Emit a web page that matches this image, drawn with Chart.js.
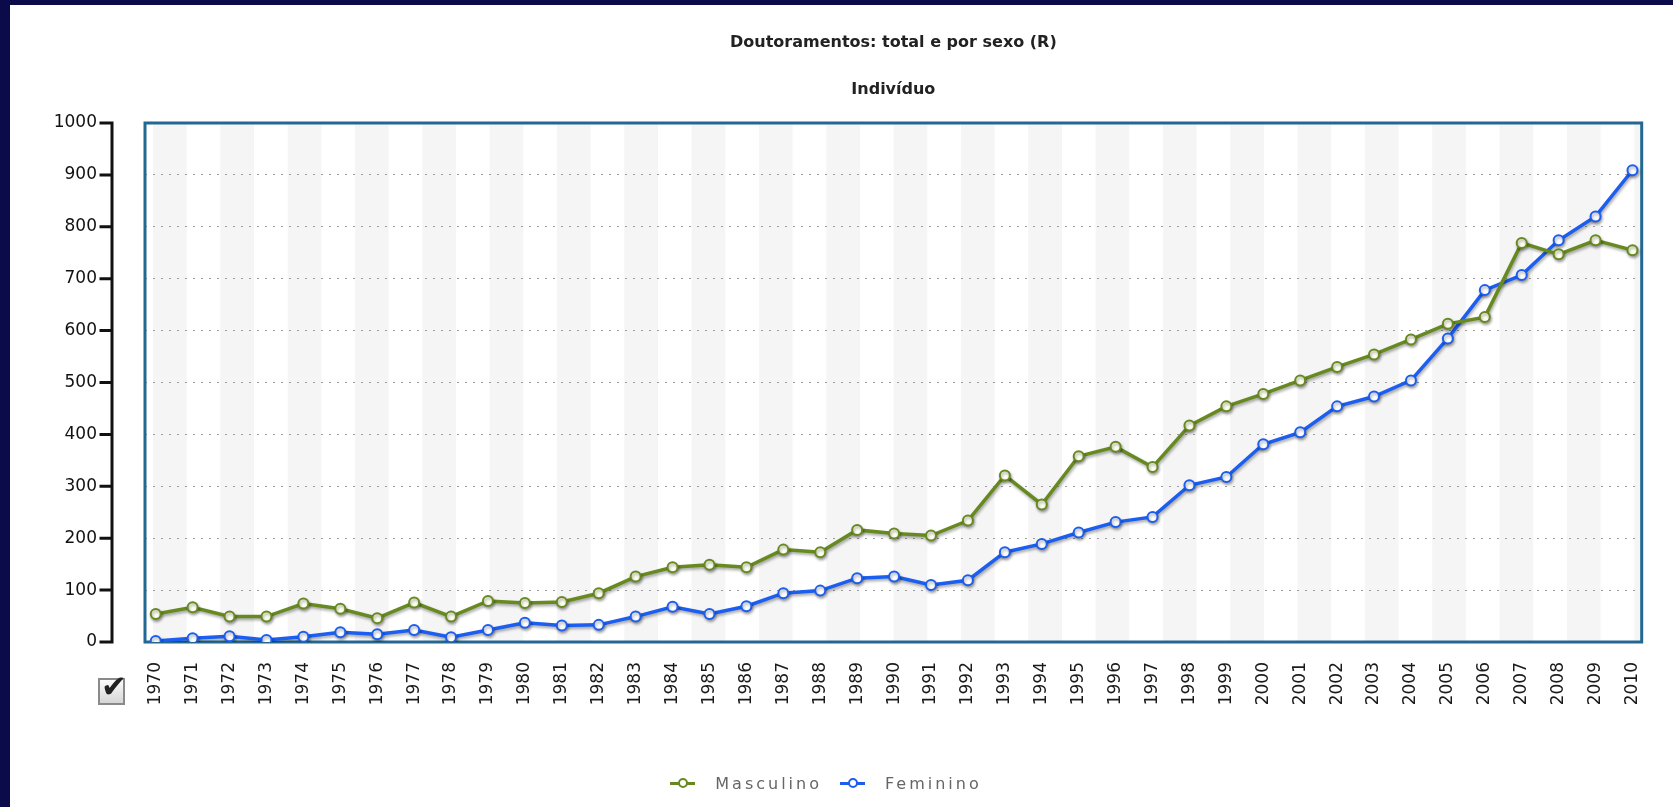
<!DOCTYPE html>
<html>
<head>
<meta charset="utf-8">
<title>Doutoramentos: total e por sexo (R)</title>
<script src="https://cdn.jsdelivr.net/npm/chart.js@4.4.1/dist/chart.umd.min.js"></script>
<style>
html, body { margin: 0; padding: 0; width: 1673px; height: 807px; overflow: hidden; background: #0b0a4a; }
#panel { position: absolute; left: 10px; top: 5px; width: 1663px; height: 802px; background: #fff; }
#myChart { position: absolute; left: 0; top: 0; }
#legend { position: absolute; left: 0; top: 768px; width: 1632px; height: 20px; display: flex; justify-content: center; align-items: center; }
#legend .item { display: flex; align-items: center; margin: 0 9px; }
#legend .mk { position: relative; width: 25px; height: 12px; }
#legend .ln { position: absolute; left: 0; top: 5px; width: 25px; height: 3px; }
#legend .dot { position: absolute; left: 8px; top: 1px; width: 6px; height: 6px; border-radius: 50%; background: #fff; border: 2px solid; }
#legend .txt { margin-left: 20px; font: 16px "DejaVu Sans", sans-serif; letter-spacing: 3px; color: #666; }
#chk { position: absolute; left: 88px; top: 673px; width: 23px; height: 23px; border: 2px solid #8a8a8a; background: linear-gradient(#fbfbfb, #d6d6d6); }
#chk span { position: absolute; left: 1px; top: -12px; font: 31px "DejaVu Sans", sans-serif; color: #222; }
</style>
</head>
<body>
<div id="panel">
  <canvas id="myChart" width="1663" height="802"></canvas>
  <div id="chk"><span>✔</span></div>
  <div id="legend"></div>
</div>
<script>
// data
var chartTitle = 'Doutoramentos: total e por sexo (R)';
var chartSubtitle = 'Indivíduo';
var years = [1970, 1971, 1972, 1973, 1974, 1975, 1976, 1977, 1978, 1979, 1980,
  1981, 1982, 1983, 1984, 1985, 1986, 1987, 1988, 1989, 1990, 1991,
  1992, 1993, 1994, 1995, 1996, 1997, 1998, 1999, 2000, 2001, 2002,
  2003, 2004, 2005, 2006, 2007, 2008, 2009, 2010];
var masculino = [54, 67, 49, 49, 74, 64, 46, 76, 49, 79, 75,
  77, 94, 126, 144, 149, 144, 178, 173, 216, 209, 205,
  234, 321, 265, 358, 376, 337, 417, 454, 478, 504, 530,
  554, 583, 613, 626, 769, 747, 774, 755];
var feminino = [2, 7, 11, 4, 10, 19, 15, 23, 9, 23, 37,
  32, 33, 49, 68, 54, 69, 94, 99, 123, 126, 110,
  119, 173, 189, 211, 231, 241, 302, 318, 381, 404, 454,
  473, 504, 585, 678, 707, 774, 820, 909];
var yTicks = [0, 100, 200, 300, 400, 500, 600, 700, 800, 900, 1000];

function points(vals) {
  return years.map(function (yr, i) { return { x: yr, y: vals[i] }; });
}

// striped background, framed plot area and the detached black y axis
var frame = {
  id: 'frame',
  beforeDraw: function (chart) {
    var ctx = chart.ctx, a = chart.chartArea;
    var period = a.width / 22.23, bw = period / 2;
    ctx.save();
    ctx.fillStyle = '#f5f5f5';
    for (var x = a.left + 8; x < a.right; x += period) {
      ctx.fillRect(x, a.top, Math.min(bw, a.right - x), a.bottom - a.top);
    }
    ctx.restore();
  },
  beforeDatasetsDraw: function (chart) {
    var ctx = chart.ctx, a = chart.chartArea, y = chart.scales.y;
    ctx.save();
    ctx.strokeStyle = '#236893';
    ctx.lineWidth = 3;
    ctx.strokeRect(a.left, a.top, a.right - a.left, a.bottom - a.top);
    var ax = a.left - 33;
    ctx.strokeStyle = '#111';
    ctx.lineWidth = 3;
    ctx.lineCap = 'square';
    ctx.beginPath();
    ctx.moveTo(ax, y.getPixelForValue(1000));
    ctx.lineTo(ax, y.getPixelForValue(0));
    yTicks.forEach(function (v) {
      var py = y.getPixelForValue(v);
      ctx.moveTo(ax - 11, py);
      ctx.lineTo(ax, py);
    });
    ctx.stroke();
    ctx.restore();
  },
  // titles centred over the plot area, not the whole canvas
  afterDraw: function (chart) {
    var ctx = chart.ctx, a = chart.chartArea;
    var cx = (a.left + a.right) / 2;
    ctx.save();
    ctx.fillStyle = '#222';
    ctx.textAlign = 'center';
    ctx.textBaseline = 'middle';
    ctx.font = 'bold 16px "DejaVu Sans"';
    ctx.fillText(chartTitle, cx, 38);
    ctx.fillText(chartSubtitle, cx, 85);
    ctx.restore();
  }
};

var shadow = {
  id: 'shadow',
  beforeDatasetDraw: function (chart) {
    var c = chart.ctx;
    c.save();
    c.shadowColor = 'rgba(0,0,0,0.35)';
    c.shadowBlur = 3;
    c.shadowOffsetX = 1;
    c.shadowOffsetY = 2;
  },
  afterDatasetDraw: function (chart) { chart.ctx.restore(); }
};

var htmlLegend = {
  id: 'htmlLegend',
  afterUpdate: function (chart) {
    var box = document.getElementById('legend');
    box.innerHTML = '';
    chart.data.datasets.forEach(function (ds) {
      var item = document.createElement('div');
      item.className = 'item';
      var mk = document.createElement('span');
      mk.className = 'mk';
      var ln = document.createElement('span');
      ln.className = 'ln';
      ln.style.background = ds.borderColor;
      var dot = document.createElement('span');
      dot.className = 'dot';
      dot.style.borderColor = ds.borderColor;
      mk.appendChild(ln);
      mk.appendChild(dot);
      var txt = document.createElement('span');
      txt.className = 'txt';
      txt.textContent = ds.label;
      item.appendChild(mk);
      item.appendChild(txt);
      box.appendChild(item);
    });
  }
};

var ctx = document.getElementById('myChart').getContext('2d');
var chart = new Chart(ctx, {
  type: 'line',
  data: {
    datasets: [{
      label: 'Masculino',
      data: points(masculino),
      borderColor: '#678a20',
      backgroundColor: '#678a20',
      borderWidth: 3.5,
      pointRadius: 5,
      pointBorderWidth: 2,
      pointBackgroundColor: '#fffff2',
      pointBorderColor: '#678a20'
    },
    {
      label: 'Feminino',
      data: points(feminino),
      borderColor: '#1b5ef0',
      backgroundColor: '#1b5ef0',
      borderWidth: 3.5,
      pointRadius: 5,
      pointBorderWidth: 2,
      pointBackgroundColor: '#ffffff',
      pointBorderColor: '#1b5ef0'
    }]
  },
  options: {
    responsive: false,
    animation: false,
    layout: { padding: { left: 0, right: 21, top: 118, bottom: 95 } },
    plugins: {
      legend: { display: false },
      tooltip: { enabled: false },
      title: { display: false }
    },
    scales: {
      x: {
        type: 'linear',
        min: 1969.71,
        max: 2010.25,
        afterBuildTicks: function (s) { s.ticks = years.map(function (v) { return { value: v }; }); },
        afterFit: function (s) { s.height = 70; },
        ticks: {
          autoSkip: false,
          minRotation: 90,
          maxRotation: 90,
          padding: 20,
          color: '#1a1a1a',
          font: { family: 'DejaVu Sans', size: 17 },
          callback: function (v) { return String(v); }
        },
        grid: { display: false, drawTicks: false },
        border: { display: false }
      },
      y: {
        min: 0,
        max: 1000,
        afterBuildTicks: function (s) { s.ticks = yTicks.map(function (v) { return { value: v }; }); },
        afterFit: function (s) { s.width = 135; },
        ticks: {
          padding: 48,
          color: '#111',
          font: { family: 'DejaVu Sans', size: 17 },
          callback: function (v) { return String(v); }
        },
        grid: {
          drawTicks: false,
          lineWidth: 1,
          color: function (c) {
            return (c.tick && (c.tick.value === 0 || c.tick.value === 1000)) ? 'rgba(0,0,0,0)' : '#9c9c9c';
          }
        },
        border: { display: false, dash: [2, 6] }
      }
    }
  },
  plugins: [frame, shadow, htmlLegend]
});
</script>
</body>
</html>
